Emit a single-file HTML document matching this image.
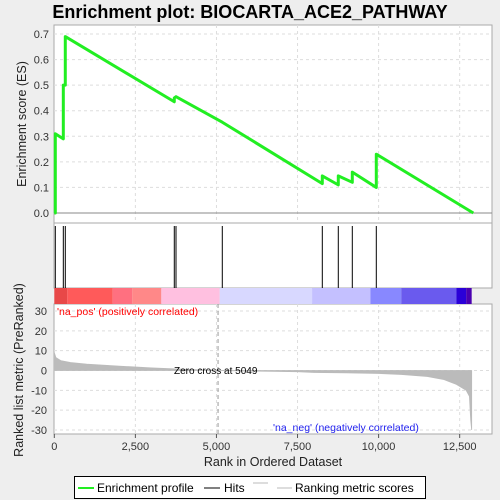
<!DOCTYPE html>
<html><head><meta charset="utf-8"><style>
body{margin:0;background:#eeeeee;font-family:"Liberation Sans",sans-serif}
svg{display:block}
</style></head><body>
<svg id="c" width="500" height="500" xmlns="http://www.w3.org/2000/svg">
<text x="250" y="18" text-anchor="middle" font-size="18" font-weight="bold" fill="#000">Enrichment plot: BIOCARTA_ACE2_PATHWAY</text>
</svg>
<script>
const hitRanks=[31,278,339,3700,3753,5180,8264,8757,9189,9929];
const esRanks=[0,31,31,278,278,339,339,3700,3700,3753,5180,8264,8264,8757,8757,9189,9189,9929,9929,12920];
const esValues=[0,0,0.31,0.29,0.50,0.50,0.69,0.435,0.45,0.455,0.355,0.115,0.145,0.11,0.145,0.12,0.16,0.10,0.23,0.0];
const metricRanks=[0,50,200,500,1000,2000,3000,4000,5049,6000,7500,8000,9000,10000,10700,11500,12000,12400,12700,12800,12840,12870];
const metricValues=[9,6.5,5,4,3.2,2.2,1.3,0.6,0,-0.3,-0.6,-1,-1.2,-1.5,-2,-3,-4.5,-7,-10,-13,-25,-30];
const esTicks=[0,0.1,0.2,0.3,0.4,0.5,0.6,0.7];
const metricTicks=[30,20,10,0,-10,-20,-30];
const xTicks=[0,2500,5000,7500,10000,12500];
const xTickLabels=["0","2,500","5,000","7,500","10,000","12,500"];
const barSegs=[[0,400,"#e84848"],[400,1800,"#ff5a5a"],[1800,2400,"#ff7080"],[2400,3300,"#ff8888"],[3300,5100,"#ffc0e0"],[5100,7950,"#d8d8ff"],[7950,9750,"#c4c0ff"],[9750,10700,"#8888ff"],[10700,12400,"#6a5aee"],[12400,12700,"#2a00d8"],[12700,12870,"#4a00b0"]];
const L=54,R=492;
const X=v=>54.3+v*0.03243;
const YE=v=>213-v*255.7;
const YM=v=>370.5-v*1.983;
const s=document.getElementById('c');
const NS="http://www.w3.org/2000/svg";
function mk(t,a,p){const e=document.createElementNS(NS,t);for(const k in a)e.setAttribute(k,a[k]);(p||s).appendChild(e);return e;}
let e;
e=mk('rect',{x:L,y:25,width:R-L,height:198,fill:'#fff',stroke:'#aaa'});

e=mk('rect',{x:L,y:223,width:R-L,height:65,fill:'#fff',stroke:'#aaa'});

e=mk('rect',{x:L,y:304,width:R-L,height:130,fill:'#fff',stroke:'#aaa'});

xTicks.forEach(v=>{if(v>0){mk('line',{x1:X(v),x2:X(v),y1:25,y2:223,stroke:'#ddd','stroke-dasharray':'3,3'});mk('line',{x1:X(v),x2:X(v),y1:304,y2:434,stroke:'#ddd','stroke-dasharray':'3,3'});}});
esTicks.forEach(v=>{mk('line',{x1:L,x2:R,y1:YE(v),y2:YE(v),stroke:v==0?'#888':'#ddd','stroke-dasharray':v==0?'':'3,3'});
 e=mk('text',{x:L-5,y:YE(v)+4,'text-anchor':'end','font-size':11,fill:'#333'});e.textContent=v.toFixed(1);
 });
metricTicks.forEach(v=>{mk('line',{x1:L,x2:R,y1:YM(v),y2:YM(v),stroke:'#ddd','stroke-dasharray':'3,3'});
 e=mk('text',{x:L-7,y:YM(v)+4,'text-anchor':'end','font-size':11,fill:'#333'});e.textContent=v;
 });
barSegs.forEach(b=>{e=mk('rect',{x:X(b[0]),y:288,width:X(b[1])-X(b[0]),height:16,fill:b[2]});
 });
hitRanks.forEach(r=>{e=mk('line',{x1:X(r),x2:X(r),y1:226,y2:288,stroke:'#000','stroke-width':1});
 });
let d='M'+X(metricRanks[0])+','+YM(0);
metricRanks.forEach((r,i)=>{d+=' L'+X(r)+','+YM(metricValues[i]);});
d+=' L'+X(metricRanks[metricRanks.length-1])+','+YM(0)+'Z';
e=mk('path',{d:d,fill:'#bbb',stroke:'#bbb','stroke-width':0.8});

mk('line',{x1:X(5049),x2:X(5049),y1:304,y2:434,stroke:'#999','stroke-dasharray':'4,3'});
e=mk('text',{x:174,y:374,'font-size':10,fill:'#000'});e.textContent='Zero cross at 5049';

e=mk('text',{x:57,y:315,'font-size':10.5,fill:'#f00'});e.textContent="'na_pos' (positively correlated)";

e=mk('text',{x:273,y:431,'font-size':10.5,fill:'#22e'});e.textContent="'na_neg' (negatively correlated)";

let p=esRanks.map((r,i)=>X(r)+','+YE(esValues[i])).join(' ');
e=mk('polyline',{points:p,fill:'none',stroke:'#22ee22','stroke-width':3,'stroke-linejoin':'round'});

xTicks.forEach((v,i)=>{mk('line',{x1:X(v),x2:X(v),y1:434,y2:438,stroke:'#555'});
 e=mk('text',{x:X(v),y:450,'text-anchor':'middle','font-size':11,fill:'#333'});e.textContent=xTickLabels[i];
 });
e=mk('text',{x:273,y:466,'text-anchor':'middle','font-size':12.5,fill:'#222'});e.textContent='Rank in Ordered Dataset';

e=mk('text',{x:0,y:0,'text-anchor':'middle','font-size':12.5,fill:'#222',transform:'translate(26,124) rotate(-90)'});e.textContent='Enrichment score (ES)';

e=mk('text',{x:0,y:0,'text-anchor':'middle','font-size':12.5,fill:'#222',transform:'translate(23,370) rotate(-90)'});e.textContent='Ranked list metric (PreRanked)';

const g=mk('g',{});

mk('rect',{x:74.5,y:476.5,width:351,height:22,fill:'#fff',stroke:'#000'},g);
mk('line',{x1:78,x2:94,y1:488,y2:488,stroke:'#22ee22','stroke-width':2},g);
e=mk('text',{x:97,y:492,'font-size':12,fill:'#000'},g);e.textContent='Enrichment profile';

mk('line',{x1:204,x2:220,y1:488,y2:488,stroke:'#000','stroke-width':1},g);
e=mk('text',{x:224,y:492,'font-size':12,fill:'#000'},g);e.textContent='Hits';

mk('line',{x1:253,x2:268,y1:483,y2:483,stroke:'#bbb'},g);
mk('line',{x1:277,x2:292,y1:488,y2:488,stroke:'#bbb'},g);
e=mk('text',{x:295,y:492,'font-size':12,fill:'#000'},g);e.textContent='Ranking metric scores';

</script>
</body></html>
